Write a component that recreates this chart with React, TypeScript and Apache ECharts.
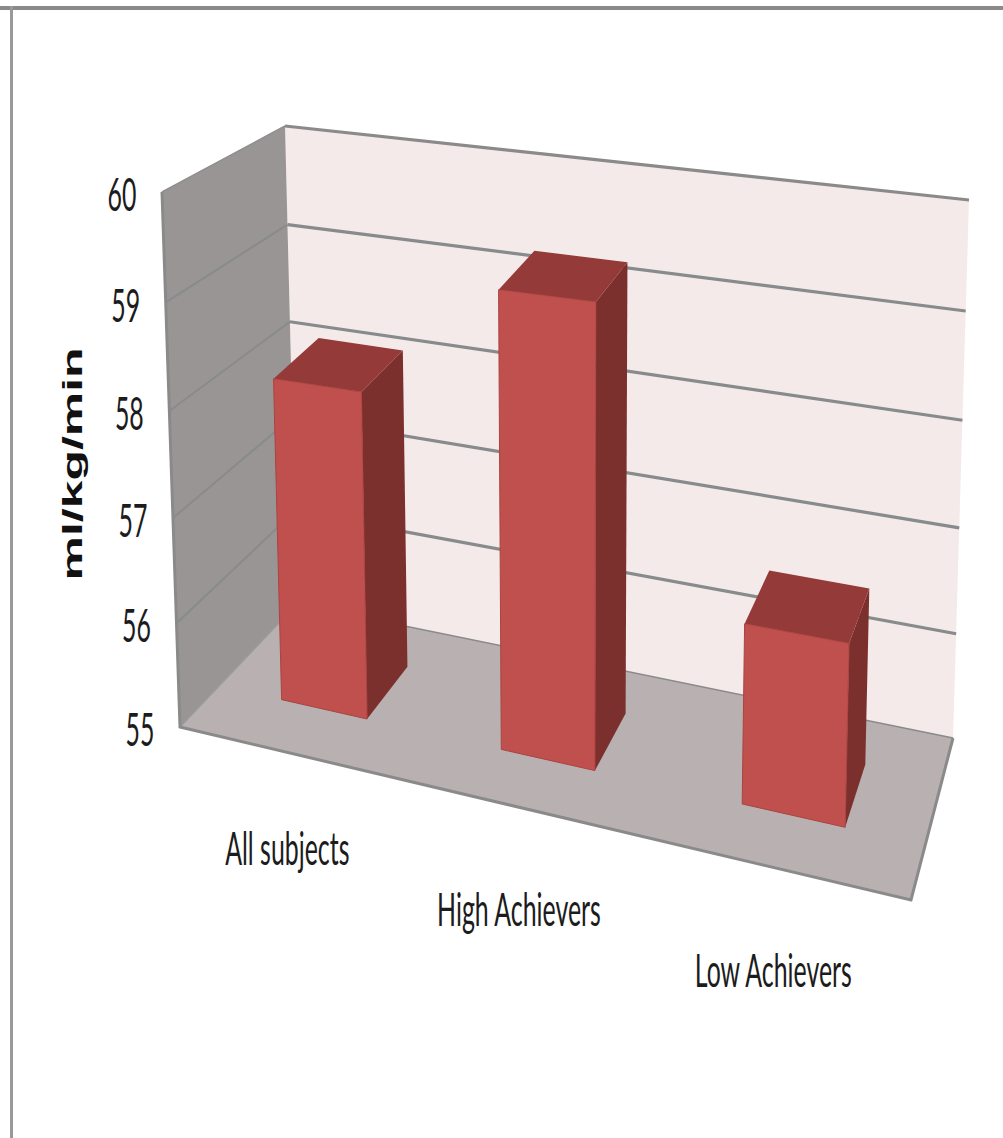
import React, { useEffect, useRef } from "react";
import * as echarts from "echarts";

const categories = ["All subjects", "High Achievers", "Low Achievers"];
const barValues = [58.1, 59.2, 56.6];
const axisTicks = [55, 56, 57, 58, 59, 60];
const axisTitle = "ml/kg/min";
const AXIS_MIN = 55;
const AXIS_MAX = 60;

const WIDTH = 1003;
const HEIGHT = 1138;

// Corners of the chart box on the page: floor first, then the ceiling.
const FLOOR_CORNERS = [[180, 727], [911, 900], [953, 738], [297, 604]];
const TOP_CORNERS = [[162, 192], [927, 274], [969, 200], [285, 126]];
const BAR_FRONT = 0.337;
const BAR_BACK = 0.735;
const CATEGORY_LABEL_TOP = 847;
const CATEGORY_LABEL_STEP = 61;

const lerp = (a: number, b: number, k: number) => a + (b - a) * k;

// Foreshortening along the category and value directions.
const warpAcross = (t: number) => t / (t + (1 - t) * 1.15);
const warpUp = (v: number) => v / (1 + 0.04 * (1 - v));
// Heights swell a little towards the back inside the box; the walls stay put.
const depthLift = (w: number) => 1 + 0.2 * w * w * w * (1 - w);

function bilinear(c: number[][], u: number, w: number) {
  return [0, 1].map((i) =>
    lerp(lerp(c[0][i], c[1][i], u), lerp(c[3][i], c[2][i], u), w)
  );
}

// t: position across the categories, w: depth, v: height; all from 0 to 1.
function project(t: number, w: number, v: number) {
  const u = warpAcross(t);
  const low = bilinear(FLOOR_CORNERS, u, w);
  const high = bilinear(TOP_CORNERS, u, w);
  const k = warpUp(v) * depthLift(w);
  return [lerp(low[0], high[0], k), lerp(low[1], high[1], k)];
}

const poly = (points: number[][], fill: string, stroke?: string, lineWidth = 1) => ({
  type: "polygon",
  shape: { points },
  style: { fill, stroke: stroke || "none", lineWidth, lineJoin: "round" },
});

const line = (points: number[][], stroke: string, lineWidth: number) => ({
  type: "polyline",
  shape: { points },
  style: { fill: "none", stroke, lineWidth },
});

const narrowLabel = (text: string, x: number, y: number) => ({
  type: "text",
  x,
  y,
  scaleX: 0.53,
  style: {
    text,
    fill: "#1c1c1c",
    fontFamily: "Lato",
    fontSize: 47,
    align: "center",
    verticalAlign: "middle",
  },
});

const FRAME = "#8a8a8a";
const GRID_LINE = "#878b8b";

function renderBox() {
  const floor = [project(0, 0, 0), project(1, 0, 0), project(1, 1, 0), project(0, 1, 0)];
  const back = [project(0, 1, 0), project(1, 1, 0), project(1, 1, 1), project(0, 1, 1)];
  const side = [project(0, 0, 0), project(0, 1, 0), project(0, 1, 1), project(0, 0, 1)];
  return {
    type: "group",
    children: [
      poly(back, "#f5eaea"),
      poly(side, "#9a9595"),
      poly(floor, "#b9b1b1"),
      line([floor[3], floor[0]], "#9a9a9a", 1.5),
      line([side[3], side[0], floor[1], floor[2]], FRAME, 3),
      line([side[3], side[2]], "#8f8f8f", 1.5),
      line([side[2], back[2]], FRAME, 3.2),
      line([floor[3], floor[2]], FRAME, 1.5),
    ],
  };
}

function renderGridLine(_: any, api: any) {
  const v = 1 - api.coord([0, api.value(1)])[1] / HEIGHT;
  if (v <= 0 || v >= 1) return null;
  return {
    type: "group",
    children: [
      line([project(0, 0, v), project(0, 1, v)], GRID_LINE, 2),
      line([project(0, 1, v), project(1, 1, v)], GRID_LINE, 3.2),
    ],
  };
}

function renderBar(_: any, api: any) {
  const [px, py] = api.coord([api.value(0), api.value(1)]);
  const half = (api.size([1, 0])[0] / WIDTH) * 0.2;
  const t = px / WIDTH;
  const v = 1 - py / HEIGHT;
  const a = t - half;
  const b = t + half;
  const front = [project(a, BAR_FRONT, 0), project(b, BAR_FRONT, 0), project(b, BAR_FRONT, v), project(a, BAR_FRONT, v)];
  const right = [project(b, BAR_FRONT, 0), project(b, BAR_BACK, 0), project(b, BAR_BACK, v), project(b, BAR_FRONT, v)];
  const top = [project(a, BAR_FRONT, v), project(b, BAR_FRONT, v), project(b, BAR_BACK, v), project(a, BAR_BACK, v)];
  return {
    type: "group",
    children: [
      poly(right, "#7c302e"),
      poly(top, "#943a38"),
      poly(front, "#c0504d", "#ab4341", 1),
    ],
  };
}

function renderTick(_: any, api: any) {
  const v = 1 - api.coord([0, api.value(1)])[1] / HEIGHT;
  const [x, y] = project(0, 0, v);
  return narrowLabel(String(api.value(1)), x - 40, y + 1);
}

function renderCategory(_: any, api: any) {
  const i = api.value(0);
  const t = api.coord([i, AXIS_MIN])[0] / WIDTH;
  const [x] = project(t, 0, 0);
  return narrowLabel(categories[i], x - 1, CATEGORY_LABEL_TOP + CATEGORY_LABEL_STEP * i);
}

const customLayer = (renderItem: any, data: number[][], z: number) => ({
  type: "custom",
  renderItem,
  data,
  z,
  silent: true,
  clip: false,
  encode: { x: 0, y: 1 },
});

export default function App() {
  const ref = useRef<HTMLDivElement>(null);

  useEffect(() => {
    const chart = echarts.init(ref.current!, null, { renderer: "svg" });
    chart.setOption({
      animation: false,
      backgroundColor: "#ffffff",
      grid: { left: 0, top: 0, width: WIDTH, height: HEIGHT },
      xAxis: { type: "category", data: categories, show: false },
      yAxis: { type: "value", min: AXIS_MIN, max: AXIS_MAX, show: false },
      graphic: [
        { type: "rect", shape: { x: 0, y: 6, width: WIDTH, height: 4 }, style: { fill: "#8a8a8a" }, z: 1 },
        { type: "rect", shape: { x: 10, y: 6, width: 3, height: HEIGHT - 6 }, style: { fill: "#999999" }, z: 1 },
        {
          type: "text",
          x: 73,
          y: 464,
          rotation: Math.PI / 2,
          scaleX: 1.85,
          z: 10,
          style: {
            text: axisTitle,
            fill: "#111111",
            fontFamily: "Liberation Sans",
            fontWeight: "bold",
            fontSize: 27,
            align: "center",
            verticalAlign: "middle",
          },
        },
      ],
      series: [
        customLayer(renderBox, [[0, AXIS_MIN]], 2),
        customLayer(renderGridLine, axisTicks.map((tick) => [0, tick]), 3),
        customLayer(renderBar, barValues.map((value, i) => [i, value]), 4),
        customLayer(renderTick, axisTicks.map((tick) => [0, tick]), 5),
        customLayer(renderCategory, categories.map((_, i) => [i, AXIS_MIN]), 5),
      ],
    });
    return () => chart.dispose();
  }, []);

  return (
    <div
      ref={ref}
      style={{ position: "absolute", left: 0, top: 0, width: WIDTH, height: HEIGHT }}
    />
  );
}
